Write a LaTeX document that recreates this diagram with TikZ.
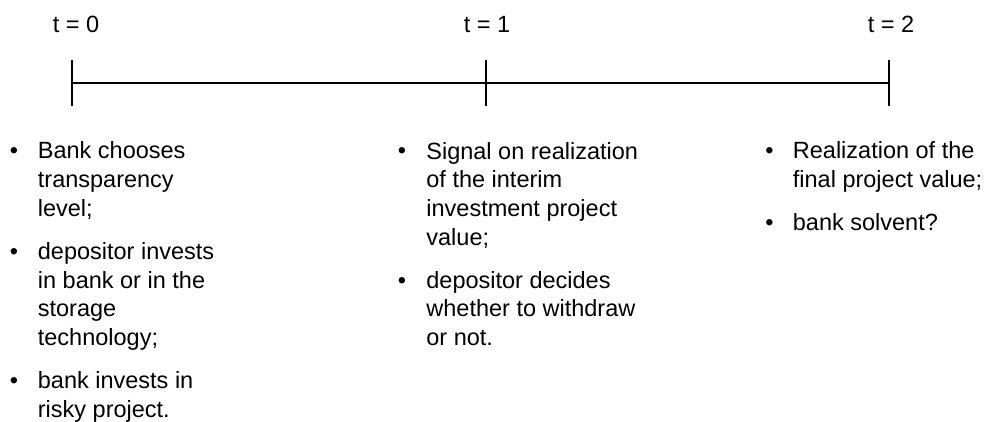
\documentclass[tikz,border=0pt]{standalone}
\usepackage{fontspec}
\setmainfont{Liberation Sans}
\usepackage{tikz}
\usetikzlibrary{positioning}

\begin{document}
\begin{tikzpicture}[x=1pt,y=-1pt,thick]
  \tikzstyle{tick}=[line width=2pt]
  \tikzstyle{axis}=[line width=1.5pt]
  \tikzstyle{stamp}=[font=\fontsize{23.5}{28.7}\selectfont,inner sep=0pt,anchor=base]
  % entries are placed by the baseline of their last line
  \tikzstyle{entry}=[font=\fontsize{23.5}{28.7}\selectfont,inner sep=0pt,anchor=base west,align=left]
  \tikzstyle{dot}=[font=\fontsize{23.5}{28.7}\selectfont,inner sep=0pt,anchor=base]

  \useasboundingbox (0,0) rectangle (985,422);

  % time axis
  \coordinate (t0) at (72,83);
  \coordinate (t1) at (486,83);
  \coordinate (t2) at (889,83);
  \draw[axis] (t0) -- (t2);
  \foreach \t in {t0,t1,t2}
    \draw[tick] ([yshift=23pt]\t) -- ([yshift=-23pt]\t);

  % dates
  \node[stamp] (d0) at (76,33) {t = 0};
  \node[stamp] (d1) at (487,33) {t = 1};
  \node[stamp] (d2) at (891,33) {t = 2};

  % t = 0
  \node[dot] (p01) at (14,159) {•};
  \node[entry] (e01) at (37.5,216.4) {Bank chooses\\transparency\\level;};
  \node[dot] (p02) at (14,259.4) {•};
  \node[entry] (e02) at (37.5,345.5) {depositor invests\\in bank or in the\\storage\\technology;};
  \node[dot] (p03) at (14,388.5) {•};
  \node[entry] (e03) at (37.5,417.2) {bank invests in\\risky project.};

  % t = 1
  \node[dot] (p11) at (402,159) {•};
  \node[entry] (e11) at (426,245.1) {Signal on realization\\of the interim\\investment project\\value;};
  \node[dot] (p12) at (402,288.1) {•};
  \node[entry] (e12) at (426,345.5) {depositor decides\\whether to withdraw\\or not.};

  % t = 2
  \node[dot] (p21) at (769.5,159) {•};
  \node[entry] (e21) at (792.5,187.7) {Realization of the\\final project value;};
  \node[dot] (p22) at (769.5,230.7) {•};
  \node[entry] (e22) at (792.5,230.7) {bank solvent?};
\end{tikzpicture}
\end{document}
